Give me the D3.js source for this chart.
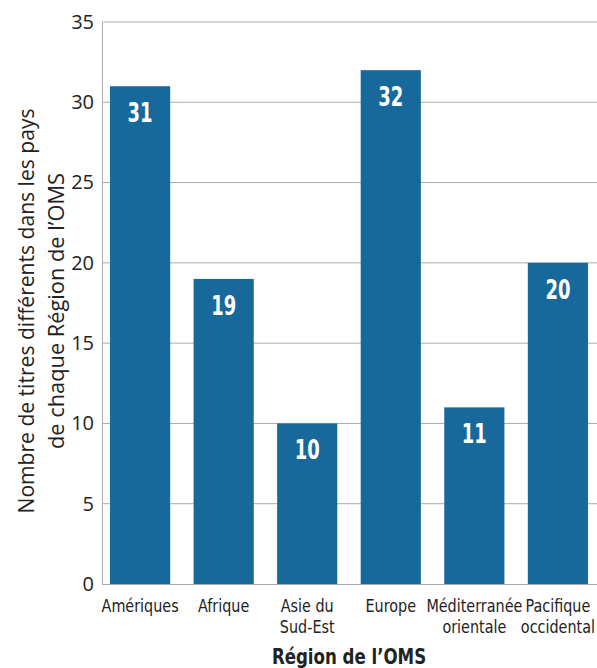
<!DOCTYPE html>
<html>
<head>
<meta charset="utf-8">
<script src="https://cdn.jsdelivr.net/npm/d3@7"></script>
<style>
  html, body { margin: 0; padding: 0; background: #fff; }
  svg { display: block; }
</style>
</head>
<body>
<svg id="chart" width="597" height="668"></svg>
<script>
// Regions (each label split into display lines) and title counts
const regions = [
  ["Amériques"],
  ["Afrique"],
  ["Asie du", "Sud-Est"],
  ["Europe"],
  ["Méditerranée", "orientale"],
  ["Pacifique", "occidental"]
];
const counts = [31, 19, 10, 32, 11, 20];
const yTicks = [0, 5, 10, 15, 20, 25, 30, 35];

const svg = d3.select("#chart");
const plotLeft = 102, plotRight = 596, plotTop = 22, plotBottom = 584;
const condensed = "'DejaVu Sans Condensed', 'Liberation Sans Narrow', sans-serif";
const plain = "'Open Sans', 'Noto Sans', sans-serif";

const keys = regions.map(r => r.join(" "));
const x = d3.scaleBand().domain(keys).range([plotLeft, plotRight])
  .paddingInner(0.28).paddingOuter(0.096);
const y = d3.scaleLinear().domain([0, 35]).range([plotBottom, plotTop]);

// horizontal gridlines
svg.append("g").selectAll("line").data(yTicks.filter(t => t > 0)).join("line")
  .attr("x1", plotLeft).attr("x2", 597)
  .attr("y1", d => y(d)).attr("y2", d => y(d))
  .attr("stroke", "#aaaaaa").attr("stroke-width", 1);

// y axis
const yAxis = svg.append("g").attr("transform", `translate(${plotLeft},0)`)
  .call(d3.axisLeft(y).tickValues(yTicks).tickSize(0).tickPadding(8));
yAxis.select(".domain").attr("stroke", "#aaaaaa");
yAxis.selectAll("text").attr("font-family", plain).attr("font-size", 20)
  .attr("fill", "#222");

// bars
svg.append("g").selectAll("rect").data(counts).join("rect")
  .attr("x", (d, i) => x(keys[i]))
  .attr("width", x.bandwidth())
  .attr("y", d => y(d))
  .attr("height", d => y(0) - y(d))
  .attr("fill", "#17699b");

// value labels inside the bars (narrowed bold digits)
svg.append("g").selectAll("text").data(counts).join("text")
  .attr("transform", (d, i) =>
    `translate(${x(keys[i]) + x.bandwidth() / 2},${y(d) + 36}) scale(0.74,1)`)
  .attr("text-anchor", "middle")
  .attr("font-family", condensed).attr("font-weight", "bold")
  .attr("font-size", 27).attr("fill", "#fff")
  .text(d => d);

// x axis baseline
svg.append("line").attr("x1", plotLeft).attr("x2", 597)
  .attr("y1", plotBottom + 0.5).attr("y2", plotBottom + 0.5)
  .attr("stroke", "#aaaaaa");

// category labels
const xl = svg.append("g").selectAll("text").data(regions).join("text")
  .attr("transform", (d, i) =>
    `translate(${x(keys[i]) + x.bandwidth() / 2},612) scale(0.94,1)`)
  .attr("text-anchor", "middle")
  .attr("font-family", condensed).attr("font-size", 17).attr("fill", "#222");
xl.selectAll("tspan").data(d => d).join("tspan")
  .attr("x", 0)
  .attr("dy", (d, i) => i === 0 ? 0 : 21)
  .text(d => d);

// x axis title
svg.append("text")
  .attr("transform", "translate(349,664) scale(0.88,1)")
  .attr("text-anchor", "middle")
  .attr("font-family", condensed).attr("font-weight", "bold")
  .attr("font-size", 21).attr("fill", "#222")
  .text("Région de l’OMS");

// y axis title (two lines)
const yt = svg.append("text")
  .attr("transform", "translate(0,311) rotate(-90)")
  .attr("text-anchor", "middle")
  .attr("font-family", plain).attr("font-size", 21).attr("fill", "#222");
yt.append("tspan").attr("x", 0).attr("y", 34)
  .attr("textLength", 405).attr("lengthAdjust", "spacingAndGlyphs")
  .text("Nombre de titres différents dans les pays");
yt.append("tspan").attr("x", 0).attr("y", 64)
  .attr("textLength", 276).attr("lengthAdjust", "spacingAndGlyphs")
  .text("de chaque Région de l’OMS");
</script>
</body>
</html>
